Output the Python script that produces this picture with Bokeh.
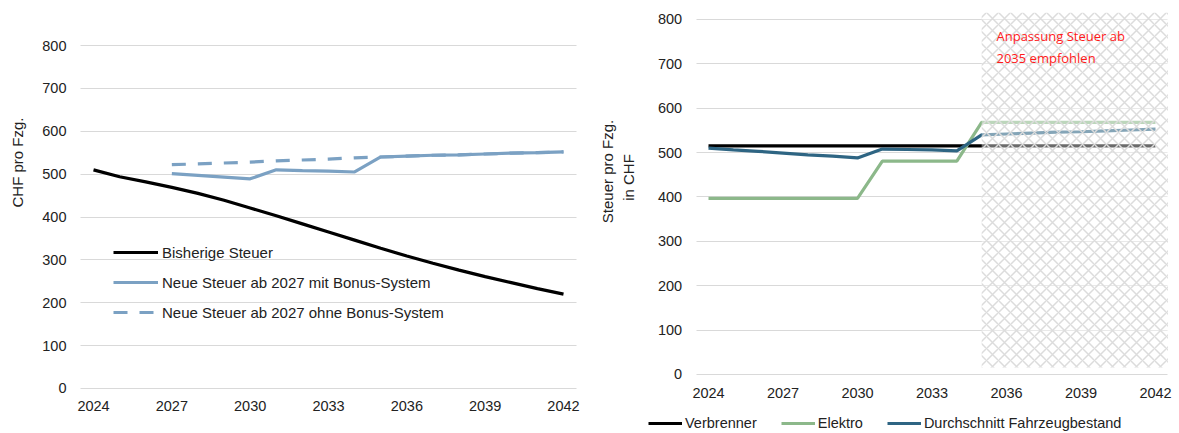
import math
from bokeh.plotting import figure
from bokeh.layouts import row
from bokeh.models import Range1d, FixedTicker, Legend, LegendItem, Label
from bokeh.embed import file_html
from bokeh.resources import INLINE

# ---- data -------------------------------------------------------------
years = [2024, 2025, 2026, 2027, 2028, 2029, 2030, 2031, 2032, 2033,
         2034, 2035, 2036, 2037, 2038, 2039, 2040, 2041, 2042]
years_new = years[3:]  # new tax from 2027
year_ticks = [2024, 2027, 2030, 2033, 2036, 2039, 2042]
value_ticks = [0, 100, 200, 300, 400, 500, 600, 700, 800]

bisherige_steuer = [510, 494, 482, 469, 455, 439, 421, 403, 384, 365,
                    346, 327, 309, 292, 276, 261, 247, 233, 220]
neu_mit_bonus = [501, 497, 493, 489, 510, 508, 507, 505,
                 540, 542, 544, 545, 547, 549, 550, 552]
neu_ohne_bonus = [522, 524, 526, 528, 531, 533, 535, 538,
                  540, 542, 544, 545, 547, 549, 550, 552]

verbrenner = [515, 515, 515, 515, 515, 515, 515, 515, 515, 515,
              515, 515, 515, 515, 515, 515, 515, 515, 515]
elektro = [397, 397, 397, 397, 397, 397, 397, 481, 481, 481,
           481, 568, 568, 568, 568, 568, 568, 568, 568]
durchschnitt = [510, 506, 503, 499, 495, 492, 488, 508, 507, 506,
                504, 540, 542, 544, 546, 547, 549, 551, 553]

# shaded period where an adjustment of the tax is recommended
anpassung_von = 2035
anpassung_bis = 2042.5
anpassung_unten = 16
anpassung_oben = 815

X_START, X_END = 2023.5, 2042.5   # category band of the year axis

FONT = "Liberation Sans"
TXT = "#222222"
GRID = "#d9d9d9"


def style(p, x_label_standoff):
    """Axes sit at fixed data positions inside the plot area."""
    p.outline_line_color = None
    p.background_fill_color = "white"
    p.border_fill_color = "white"
    p.xgrid.grid_line_color = None
    p.xaxis.ticker = FixedTicker(ticks=year_ticks)
    p.yaxis.ticker = FixedTicker(ticks=value_ticks)
    p.xaxis.fixed_location = 0
    p.yaxis.fixed_location = X_START
    for ax in (p.xaxis[0], p.yaxis[0]):
        ax.axis_line_color = None
        ax.major_tick_line_color = None
        ax.minor_tick_line_color = None
        ax.major_tick_out = 0
        ax.major_tick_in = 0
        ax.major_label_text_font = FONT
        ax.major_label_text_font_size = "14.5px"
        ax.major_label_text_color = TXT
    p.xaxis.major_label_standoff = x_label_standoff
    p.yaxis.major_label_standoff = 14
    grid = p.ygrid[0]
    if "cross_bounds" in grid.properties():
        grid.cross_bounds = (X_START, X_END)
        grid.grid_line_color = GRID
        grid.grid_line_width = 1
    else:
        grid.grid_line_color = None
        p.segment(x0=[X_START] * len(value_ticks), x1=[X_END] * len(value_ticks),
                  y0=value_ticks, y1=value_ticks, line_color=GRID, line_width=1)


def axis_title(p, text, x, y):
    p.add_layout(Label(x=x, y=y, x_units="screen", y_units="screen",
                       text=text, angle=math.pi / 2,
                       text_align="center", text_baseline="middle",
                       text_font=FONT, text_font_size="15px", text_color=TXT))


# ---- left chart -------------------------------------------------------
p1 = figure(width=590, height=433, output_backend="svg", toolbar_location=None,
            title=None,
            x_range=Range1d(2020.438, 2043.034), y_range=Range1d(-104.96, 904.96),
            min_border_left=0, min_border_right=0,
            min_border_top=0, min_border_bottom=0)
style(p1, 13)
axis_title(p1, "CHF pro Fzg.", 17, 271)

BLUE = "#7ba1c3"
r_alt = p1.line(years, bisherige_steuer, line_color="black", line_width=3.2)
r_mit = p1.line(years_new, neu_mit_bonus, line_color=BLUE, line_width=3.2)
r_ohne = p1.line(years_new, neu_ohne_bonus, line_color=BLUE, line_width=3.2,
                 line_dash="14 12")

leg1 = Legend(items=[
    LegendItem(label="Bisherige Steuer", renderers=[r_alt]),
    LegendItem(label="Neue Steuer ab 2027 mit Bonus-System", renderers=[r_mit]),
    LegendItem(label="Neue Steuer ab 2027 ohne Bonus-System", renderers=[r_ohne]),
], location=(113, 111), orientation="vertical")
leg1.glyph_width = 45
leg1.glyph_height = 20
leg1.label_height = 20
leg1.label_standoff = 4
leg1.spacing = 10
leg1.padding = 0
leg1.margin = 0
leg1.border_line_color = None
leg1.background_fill_alpha = 0
leg1.label_text_font = FONT
leg1.label_text_font_size = "15px"
leg1.label_text_color = TXT
p1.add_layout(leg1, "center")

# ---- right chart ------------------------------------------------------
p2 = figure(width=589, height=433, output_backend="svg", toolbar_location=None,
            title=None,
            x_range=Range1d(2019.248, 2042.966), y_range=Range1d(-133.0, 842.8),
            min_border_left=0, min_border_right=0,
            min_border_top=0, min_border_bottom=0)
style(p2, 14)
axis_title(p2, "Steuer pro Fzg.", 17, 262)
axis_title(p2, "in CHF", 38, 256)

GREEN = "#8cb88a"
PETROL = "#2e6583"
r_v = p2.line(years, verbrenner, line_color="black", line_width=3.2)
r_e = p2.line(years, elektro, line_color=GREEN, line_width=3.2)
r_d = p2.line(years, durchschnitt, line_color=PETROL, line_width=3.2)

# hatched overlay for the period from 2035 on
p2.quad(left=[anpassung_von], right=[anpassung_bis],
        bottom=[anpassung_unten], top=[anpassung_oben],
        fill_color="white", fill_alpha=0.42, line_color=None,
        hatch_pattern="diagonal_cross", hatch_color="#dcdcdc",
        hatch_alpha=1.0, hatch_scale=12, hatch_weight=1.5)

p2.add_layout(Label(x=406, y=398, x_units="screen", y_units="screen",
                    text="Anpassung Steuer ab", text_align="left",
                    text_baseline="middle", text_font="Open Sans",
                    text_font_size="13px", text_color="#ff1a1a"))
p2.add_layout(Label(x=406, y=376, x_units="screen", y_units="screen",
                    text="2035 empfohlen", text_align="left",
                    text_baseline="middle", text_font="Open Sans",
                    text_font_size="13px", text_color="#ff1a1a"))

leg2 = Legend(items=[
    LegendItem(label="Verbrenner", renderers=[r_v]),
    LegendItem(label="Elektro", renderers=[r_e]),
    LegendItem(label="Durchschnitt Fahrzeugbestand", renderers=[r_d]),
], location=(58, 0), orientation="horizontal")
leg2.glyph_width = 34
leg2.glyph_height = 20
leg2.label_height = 20
leg2.label_standoff = 3
leg2.spacing = 24
leg2.padding = 0
leg2.margin = 0
leg2.border_line_color = None
leg2.background_fill_alpha = 0
leg2.label_text_font = FONT
leg2.label_text_font_size = "14.5px"
leg2.label_text_color = TXT
p2.add_layout(leg2, "center")

layout = row(p1, p2)
open("out.html", "w").write(file_html(layout, INLINE))
